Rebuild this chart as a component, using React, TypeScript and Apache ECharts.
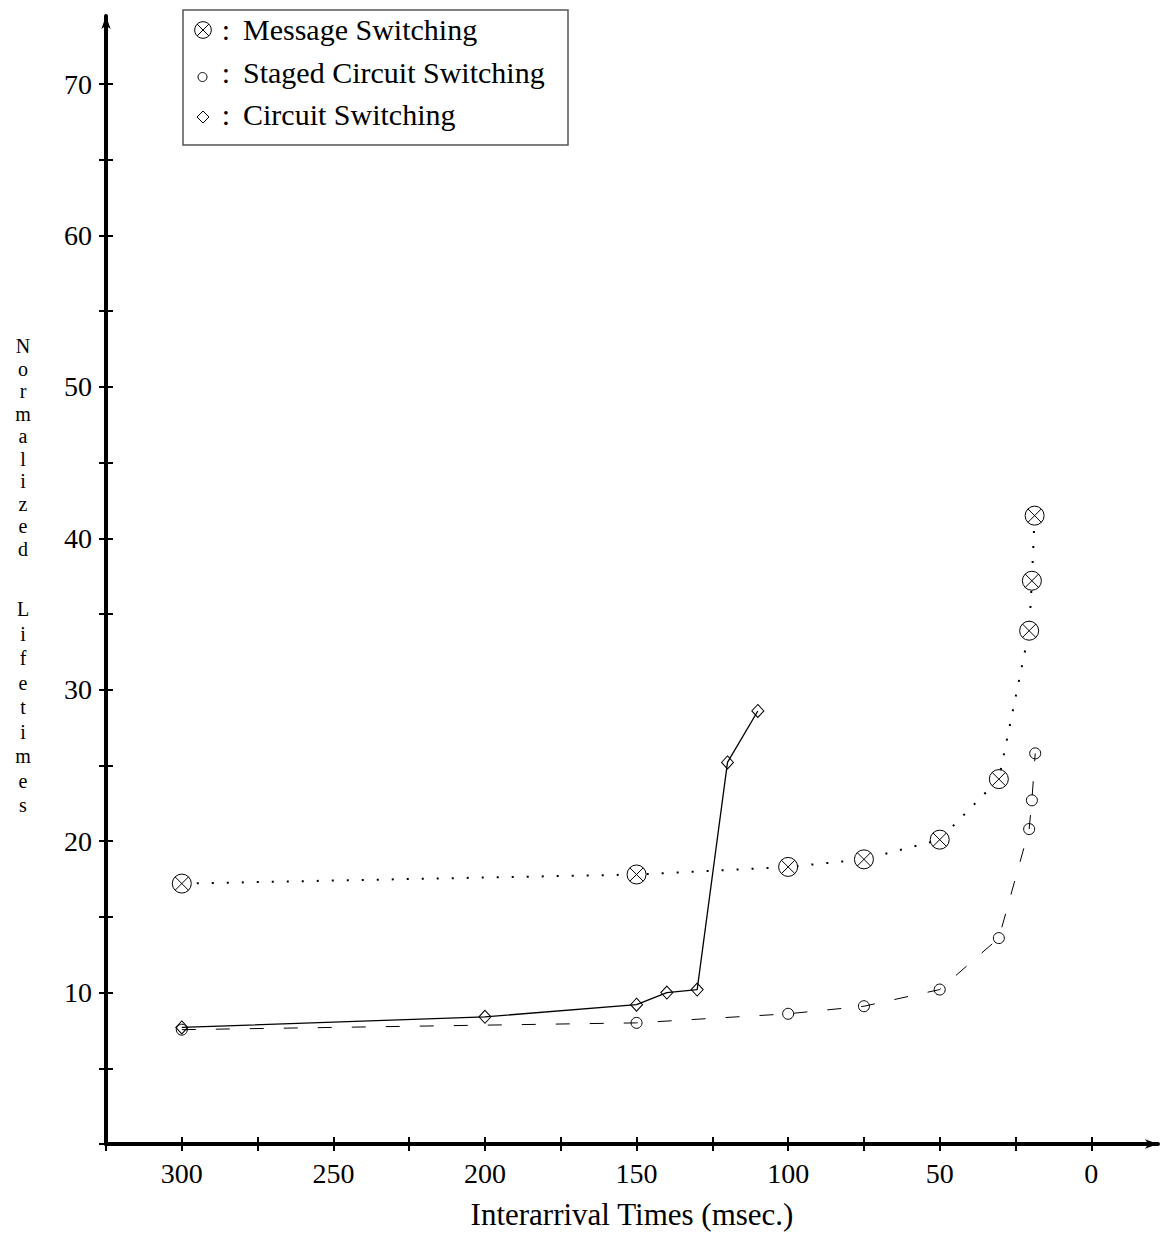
import React, { useEffect, useRef } from "react";
import * as echarts from "echarts";

// ---- data ----
const seriesNames = ["Message Switching", "Staged Circuit Switching", "Circuit Switching"];

const messageX = [300, 150, 100, 75, 50, 30.5, 20.5, 19.6, 18.7];
const messageY = [17.2, 17.8, 18.3, 18.8, 20.1, 24.1, 33.9, 37.2, 41.5];

const stagedX = [300, 150, 100, 75, 50, 30.5, 20.5, 19.6, 18.5];
const stagedY = [7.55, 8.0, 8.6, 9.1, 10.2, 13.6, 20.8, 22.7, 25.8];

const circuitX = [300, 200, 150, 140, 130, 120, 110];
const circuitY = [7.7, 8.4, 9.2, 10.0, 10.2, 25.2, 28.6];

const xTickValues = [325, 300, 275, 250, 225, 200, 175, 150, 125, 100, 75, 50, 25, 0];
const xLabelValues = [300, 250, 200, 150, 100, 50, 0];
const yTickValues = [0, 5, 10, 15, 20, 25, 30, 35, 40, 45, 50, 55, 60, 65, 70];
const yLabelValues = [10, 20, 30, 40, 50, 60, 70];

const xTitle = "Interarrival Times (msec.)";
const yTitleWords = ["Normalized", "Lifetimes"];

const FONT = '"Liberation Serif", "DejaVu Serif", serif';

const otimes =
  "path://M0,10 A10,10 0 1,1 20,10 A10,10 0 1,1 0,10 Z M2.93,2.93 L17.07,17.07 M17.07,2.93 L2.93,17.07";

function pairs(xs: number[], ys: number[]) {
  return xs.map((x, i) => [x, ys[i]]);
}

function stackedLetters(word: string, centerX: number, firstCenterY: number, step: number, size: number) {
  return word.split("").map((ch, i) => ({
    type: "text",
    silent: true,
    style: {
      text: ch,
      x: centerX,
      y: firstCenterY + i * step,
      align: "center",
      verticalAlign: "middle",
      fontFamily: FONT,
      fontSize: size,
      fill: "#000",
    },
  }));
}

export default function App() {
  const ref = useRef<HTMLDivElement>(null);

  useEffect(() => {
    if (!ref.current) return;
    const chart = echarts.init(ref.current, undefined, { renderer: "svg" });

    const tickStyle = { color: "#000", width: 2 };
    const xCommon = {
      type: "value",
      inverse: true,
      min: -22,
      max: 325,
      position: "bottom",
      splitLine: { show: false },
    };
    const yCommon = {
      type: "value",
      min: 0,
      max: 74.5,
      position: "left",
      splitLine: { show: false },
    };

    const rowY = [29, 72.5, 114];

    const option: any = {
      animation: false,
      backgroundColor: "#fff",
      grid: { left: 106, right: 8, top: 16, bottom: 95, containLabel: false, outerBoundsMode: "none" },
      xAxis: [
        {
          ...xCommon,
          axisLine: {
            show: true,
            onZero: false,
            lineStyle: { color: "#000", width: 4 },
            symbol: ["none", "arrow"],
            symbolSize: [7, 13],
          },
          axisTick: { show: true, inside: false, length: 7, lineStyle: tickStyle, customValues: xTickValues },
          axisLabel: {
            show: true,
            margin: 15,
            color: "#000",
            fontFamily: FONT,
            fontSize: 28,
            customValues: xLabelValues,
          },
          name: xTitle,
          nameLocation: "middle",
          nameGap: 55,
          nameTextStyle: { color: "#000", fontFamily: FONT, fontSize: 31 },
        },
        {
          ...xCommon,
          axisLine: { show: false, onZero: false },
          axisTick: { show: true, inside: true, length: 7, lineStyle: tickStyle, customValues: xTickValues },
          axisLabel: { show: false },
        },
      ],
      yAxis: [
        {
          ...yCommon,
          axisLine: {
            show: true,
            onZero: false,
            lineStyle: { color: "#000", width: 4 },
            symbol: ["none", "arrow"],
            symbolSize: [7, 13],
          },
          axisTick: { show: true, inside: false, length: 7, lineStyle: tickStyle, customValues: yTickValues },
          axisLabel: {
            show: true,
            margin: 14,
            color: "#000",
            fontFamily: FONT,
            fontSize: 28,
            customValues: yLabelValues,
          },
        },
        {
          ...yCommon,
          axisLine: { show: false, onZero: false },
          axisTick: { show: true, inside: true, length: 7, lineStyle: tickStyle, customValues: yTickValues },
          axisLabel: { show: false },
        },
      ],
      series: [
        {
          type: "line",
          name: seriesNames[0],
          xAxisIndex: 0,
          yAxisIndex: 0,
          data: pairs(messageX, messageY),
          symbol: otimes,
          symbolSize: 19,
          itemStyle: { color: "#fff", borderColor: "#000", borderWidth: 1 },
          lineStyle: { color: "#000", width: 2, type: [2, 13], cap: "butt" },
          silent: true,
          z: 3,
        },
        {
          type: "line",
          name: seriesNames[1],
          xAxisIndex: 0,
          yAxisIndex: 0,
          data: pairs(stagedX, stagedY),
          symbol: "circle",
          symbolSize: 11,
          itemStyle: { color: "rgba(255,255,255,0)", borderColor: "#000", borderWidth: 1 },
          lineStyle: { color: "#000", width: 1, type: [14, 20] },
          silent: true,
          z: 3,
        },
        {
          type: "line",
          name: seriesNames[2],
          xAxisIndex: 0,
          yAxisIndex: 0,
          data: pairs(circuitX, circuitY),
          symbol: "diamond",
          symbolSize: [12, 13],
          itemStyle: { color: "rgba(255,255,255,0)", borderColor: "#000", borderWidth: 1 },
          lineStyle: { color: "#000", width: 1.3, type: "solid" },
          silent: true,
          z: 3,
        },
      ],
      graphic: [
        // vertical y-axis title, one letter per line
        {
          type: "group",
          silent: true,
          children: [
            ...stackedLetters(yTitleWords[0], 23, 346, 22.5, 20),
            ...stackedLetters(yTitleWords[1], 23, 609, 24.5, 20),
          ],
        },
        // legend box
        {
          type: "group",
          silent: true,
          children: [
            {
              type: "rect",
              shape: { x: 183, y: 10, width: 385, height: 135 },
              style: { fill: "#fff", stroke: "#555", lineWidth: 1.5 },
            },
            { type: "circle", shape: { cx: 203, cy: 30, r: 8.3 }, style: { fill: "none", stroke: "#000", lineWidth: 1 } },
            { type: "line", shape: { x1: 197.1, y1: 24.1, x2: 208.9, y2: 35.9 }, style: { stroke: "#000", lineWidth: 1 } },
            { type: "line", shape: { x1: 208.9, y1: 24.1, x2: 197.1, y2: 35.9 }, style: { stroke: "#000", lineWidth: 1 } },
            { type: "circle", shape: { cx: 202.5, cy: 77, r: 4.5 }, style: { fill: "none", stroke: "#000", lineWidth: 1 } },
            {
              type: "polygon",
              shape: { points: [[203, 111], [209, 117], [203, 123], [197, 117]] },
              style: { fill: "none", stroke: "#000", lineWidth: 1 },
            },
            ...rowY.map((y) => ({
              type: "text",
              style: { text: ":", x: 226, y, align: "center", verticalAlign: "middle", fontFamily: FONT, fontSize: 30, fill: "#000" },
            })),
            ...seriesNames.map((n, i) => ({
              type: "text",
              style: {
                text: n,
                x: 243,
                y: rowY[i],
                align: "left",
                verticalAlign: "middle",
                fontFamily: FONT,
                fontSize: 30,
                fill: "#000",
              },
            })),
          ],
        },
      ],
    };

    chart.setOption(option);
    return () => {
      chart.dispose();
    };
  }, []);

  return (
    <div
      ref={ref}
      style={{ position: "absolute", left: 0, top: 0, width: 1166, height: 1239, background: "#fff" }}
    />
  );
}
